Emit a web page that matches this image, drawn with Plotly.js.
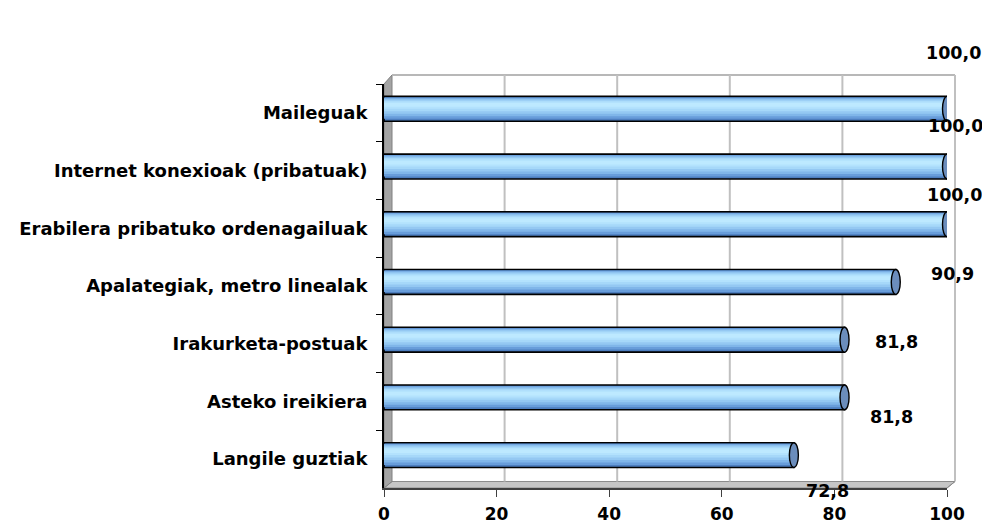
<!DOCTYPE html>
<html>
<head>
<meta charset="utf-8">
<script src="https://cdn.plot.ly/plotly-3.0.1.min.js"></script>
<style>
  html, body { margin: 0; padding: 0; background: #ffffff; }
  #chart { width: 982px; height: 527px; }
</style>
</head>
<body>
<div id="chart"></div>
<script>
// ---- data ----
var categories = [
  'Maileguak',
  'Internet konexioak (pribatuak)',
  'Erabilera pribatuko ordenagailuak',
  'Apalategiak, metro linealak',
  'Irakurketa-postuak',
  'Asteko ireikiera',
  'Langile guztiak'
];
var values = [100.0, 100.0, 100.0, 90.9, 81.8, 81.8, 72.8];
var valueLabels = ['100,0', '100,0', '100,0', '90,9', '81,8', '81,8', '72,8'];
var xTicks = [0, 20, 40, 60, 80, 100];

// ---- style / layout constants ----
var FONT = { family: 'DejaVu Sans, Verdana, sans-serif', size: 17.5, color: '#000000', weight: 'bold' };
var CATFONT = { family: 'DejaVu Sans, Verdana, sans-serif', size: 18, color: '#000000', weight: 'bold' };
var TICKFONT = { family: 'DejaVu Sans, Verdana, sans-serif', size: 17, color: '#000000', weight: 'bold' };
var W = 0.43;      // bar thickness (category units)
var LIFT = 0.07;   // 3D mid-depth lift (category units)
// label offsets in pixels (as placed in the original chart)
var labelShiftX = [6, 8, 7, 57, 52, 47, 34];
var labelShiftY = [60, 45, 33, 12, 2, -16, -32];

// cylinder shading layers: [fraction from top, fraction from bottom, colour]
var layers = [
  [0.00, 0.00, '#4d7ebf'],
  [0.04, 0.10, '#689dda'],
  [0.07, 0.20, '#80b6e9'],
  [0.11, 0.30, '#94c8f2'],
  [0.16, 0.40, '#a6d8f9'],
  [0.21, 0.50, '#b3e2fd'],
  [0.27, 0.58, '#bde9ff']
];

var traces = layers.map(function (L, k) {
  var wid = (1 - L[0] - L[1]) * W;
  var off = -W / 2 - LIFT + L[0] * W;
  return {
    type: 'bar',
    orientation: 'h',
    y: categories,
    x: values,
    width: categories.map(function () { return wid; }),
    offset: categories.map(function () { return off; }),
    marker: {
      color: L[2],
      line: { color: k === 0 ? '#000000' : L[2], width: k === 0 ? 1.6 : 0 }
    },
    hoverinfo: 'skip',
    showlegend: false
  };
});

// ---- 3D frame (decoration) in paper coords ----
var dx = 8 / 563, dyTop = 9 / 404, dyFloor = 6.5 / 404;
var shapes = [];
shapes.push({ type: 'path', xref: 'paper', yref: 'paper', layer: 'below',
  path: 'M0,0 L1,0 L' + (1 + dx) + ',' + dyFloor + ' L' + dx + ',' + dyFloor + ' Z',
  fillcolor: '#c6c6c6', line: { color: '#8c8c8c', width: 1 } });
shapes.push({ type: 'path', xref: 'paper', yref: 'paper', layer: 'below',
  path: 'M0,0 L0,1 L' + dx + ',' + (1 + dyTop) + ' L' + dx + ',' + dyFloor + ' Z',
  fillcolor: '#a4a4a4', line: { color: '#808080', width: 1 } });
shapes.push({ type: 'line', xref: 'paper', yref: 'paper', layer: 'below',
  x0: dx, x1: 1 + dx, y0: 1 + dyTop, y1: 1 + dyTop, line: { color: '#b8b8b8', width: 2 } });
xTicks.slice(1).forEach(function (t) {
  var px = t / 100 + dx;
  shapes.push({ type: 'line', xref: 'paper', yref: 'paper', layer: 'below',
    x0: px, x1: px, y0: dyFloor, y1: 1 + dyTop, line: { color: '#c0c0c0', width: 2 } });
});
shapes.push({ type: 'line', xref: 'paper', yref: 'paper', layer: 'below',
  x0: 1, x1: 1 + dx, y0: 0, y1: dyFloor, line: { color: '#8c8c8c', width: 1 } });

// cylinder end caps
values.forEach(function (v, i) {
  shapes.push({ type: 'circle', xref: 'x', yref: 'y', layer: 'above',
    x0: v - 0.8, x1: v + 0.8,
    y0: i - W / 2 - LIFT, y1: i + W / 2 - LIFT,
    fillcolor: '#6b8dbc', line: { color: '#000000', width: 1.4 } });
});

// value labels
var annotations = values.map(function (v, i) {
  return { xref: 'x', yref: 'y', x: v, y: categories[i], text: valueLabels[i],
    showarrow: false, xanchor: 'center', yanchor: 'middle',
    xshift: labelShiftX[i], yshift: labelShiftY[i], font: FONT };
});

var layout = {
  width: 982, height: 527,
  margin: { l: 384, r: 35, t: 84, b: 39, pad: 0 },
  paper_bgcolor: '#ffffff', plot_bgcolor: 'rgba(0,0,0,0)',
  barmode: 'overlay',
  showlegend: false,
  xaxis: {
    range: [0, 100], fixedrange: true,
    tickvals: xTicks, ticktext: xTicks.map(String),
    showgrid: false, zeroline: false,
    showline: true, linecolor: '#404040', linewidth: 1.5,
    ticks: 'outside', ticklen: 7, tickcolor: '#404040', tickwidth: 1,
    ticklabelstandoff: 3,
    tickfont: TICKFONT, automargin: false
  },
  yaxis: {
    type: 'category', autorange: 'reversed', fixedrange: true,
    categoryorder: 'array', categoryarray: categories,
    showgrid: false, zeroline: false,
    showline: true, linecolor: '#000000', linewidth: 2,
    ticks: 'outside', tickson: 'boundaries', ticklen: 6, tickcolor: '#000000', tickwidth: 1,
    ticklabelstandoff: 11,
    tickfont: CATFONT, automargin: false
  },
  shapes: shapes,
  annotations: annotations
};

Plotly.newPlot('chart', traces, layout, { staticPlot: true, displayModeBar: false });
</script>
</body>
</html>
